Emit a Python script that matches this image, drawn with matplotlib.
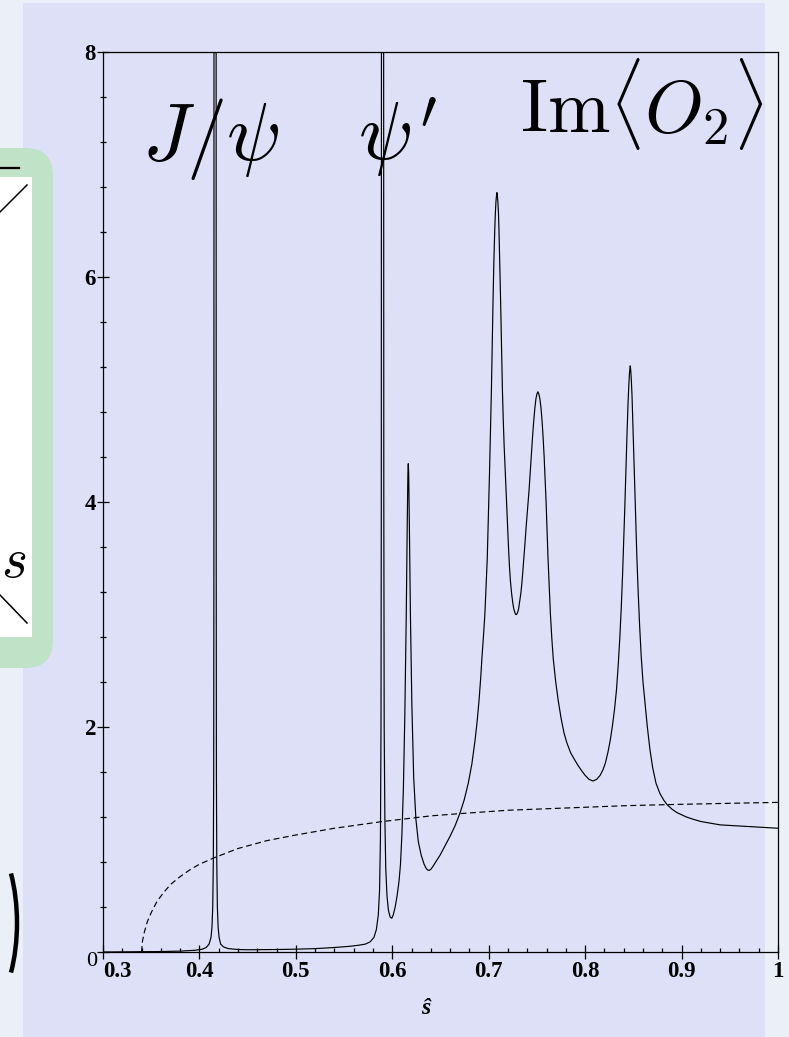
import matplotlib
matplotlib.use("Agg")
import matplotlib.pyplot as plt
from matplotlib.patches import FancyBboxPatch, Rectangle, Arc
from matplotlib.ticker import MultipleLocator

plt.rcParams['mathtext.fontset'] = 'cm'

W, H = 789, 1037

# Im<O2> (solid); peak tops above 8 are clipped by the axes
im_x = [0.300, 0.330, 0.360, 0.380, 0.395, 0.403, 0.407, 0.410, 0.412, 0.4130,
        0.4138, 0.4144, 0.4148, 0.4150, 0.4151,
        0.4173, 0.4174, 0.4176, 0.4180, 0.4186, 0.4194, 0.4204, 0.422, 0.425, 0.430,
        0.440, 0.450, 0.480, 0.500, 0.520, 0.540, 0.555, 0.565, 0.572, 0.577,
        0.581, 0.5835, 0.5855, 0.5868, 0.5877, 0.5883, 0.5886, 0.5888,
        0.5910, 0.5912, 0.5916, 0.5923, 0.5932, 0.5945, 0.596, 0.5978, 0.5995,
        0.601, 0.603, 0.605, 0.607, 0.6085, 0.610, 0.6115, 0.613, 0.6145, 0.6155,
        0.6162, 0.6166, 0.6170, 0.6177, 0.6188, 0.6203, 0.6222, 0.6245, 0.627,
        0.630, 0.633, 0.635, 0.6365, 0.638, 0.640, 0.6425, 0.645, 0.6495, 0.655,
        0.660, 0.665, 0.670, 0.6745, 0.6788, 0.6825, 0.6858, 0.688, 0.690, 0.6918,
        0.693, 0.6945, 0.696, 0.6972, 0.6985, 0.6993, 0.700, 0.7008, 0.7015, 0.7022,
        0.7028, 0.7036, 0.7045, 0.7053, 0.7062, 0.7069, 0.7075, 0.7080, 0.7085,
        0.7090, 0.7095, 0.7101, 0.7107, 0.7115, 0.7123, 0.7132, 0.7142, 0.7150,
        0.7160, 0.7172, 0.7185, 0.7195, 0.7205, 0.7215, 0.7225, 0.7237, 0.7250,
        0.7260, 0.7270, 0.7280, 0.7290, 0.7300, 0.7310, 0.7322, 0.7335, 0.7348,
        0.7360, 0.7375, 0.7390, 0.7405, 0.7418, 0.7430, 0.7440, 0.7453, 0.7465,
        0.7478, 0.7490, 0.7500, 0.7510, 0.7520, 0.7530, 0.7543, 0.7555, 0.7565,
        0.7575, 0.7585, 0.7595, 0.7605, 0.7615, 0.7628, 0.7640, 0.7655, 0.7670,
        0.7695, 0.7720, 0.7750, 0.7780, 0.7810, 0.7850, 0.7890, 0.7925, 0.7965,
        0.8000, 0.8040, 0.8080, 0.8120, 0.8155, 0.8185, 0.8210, 0.8235, 0.8260,
        0.8283, 0.8305, 0.8325, 0.8343, 0.8360, 0.8375, 0.8388, 0.8400, 0.8412,
        0.8423, 0.8434, 0.8445, 0.8453, 0.8460, 0.8468, 0.8473, 0.8479,
        0.8486, 0.8494, 0.8503, 0.8513, 0.8524, 0.8536, 0.8550, 0.8565, 0.8582,
        0.8600, 0.8620, 0.8645, 0.8672, 0.8700, 0.8735, 0.8775, 0.8815, 0.8850,
        0.8900, 0.8950, 0.9000, 0.9050, 0.9120, 0.9200, 0.9300, 0.9400, 0.9500,
        0.9600, 0.9800, 1.0000]
im_y = [0.000, 0.002, 0.004, 0.008, 0.015, 0.025, 0.040, 0.070, 0.130, 0.22,
        0.40, 0.80, 1.6, 3.5, 9.0,
        9.0, 3.5, 1.6, 0.80, 0.40, 0.22, 0.130, 0.070, 0.045, 0.030,
        0.022, 0.020, 0.022, 0.025, 0.030, 0.040, 0.050, 0.060, 0.070, 0.090,
        0.13, 0.20, 0.33, 0.55, 1.0, 2.0, 4.0, 9.0,
        9.0, 4.0, 2.0, 1.2, 0.75, 0.50, 0.37, 0.31, 0.30,
        0.33, 0.40, 0.50, 0.63, 0.78, 1.05, 1.45, 2.1, 3.0, 3.8,
        4.25, 4.34, 4.25, 3.8, 3.0, 2.2, 1.55, 1.18, 0.98,
        0.86, 0.78, 0.745, 0.73, 0.725, 0.735, 0.765, 0.80, 0.86, 0.95,
        1.03, 1.12, 1.23, 1.35, 1.50, 1.67, 1.88, 2.05, 2.24, 2.45,
        2.62, 2.8, 3.0, 3.25, 3.5, 3.75, 4.0, 4.25, 4.5, 4.75,
        5.0, 5.4, 5.8, 6.12, 6.4, 6.57, 6.67, 6.72, 6.75,
        6.72, 6.67, 6.57, 6.4, 6.12, 5.8, 5.4, 5.0, 4.75,
        4.5, 4.25, 4.0, 3.8, 3.6, 3.43, 3.3, 3.19, 3.1,
        3.05, 3.02, 3.0, 3.0, 3.02, 3.05, 3.12, 3.2, 3.32,
        3.45, 3.62, 3.8, 3.96, 4.1, 4.26, 4.4, 4.56, 4.7,
        4.83, 4.92, 4.96, 4.98, 4.96, 4.92, 4.83, 4.7, 4.56,
        4.4, 4.2, 4.0, 3.75, 3.5, 3.25, 3.0, 2.78, 2.6,
        2.4, 2.24, 2.08, 1.95, 1.86, 1.77, 1.71, 1.66, 1.61,
        1.57, 1.535, 1.52, 1.535, 1.57, 1.62, 1.68, 1.77, 1.88,
        2.01, 2.16, 2.33, 2.55, 2.8, 3.07, 3.35, 3.65, 3.97,
        4.3, 4.6, 4.88, 5.04, 5.15, 5.21, 5.17, 5.08,
        4.95, 4.72, 4.45, 4.15, 3.85, 3.52, 3.2, 2.9, 2.62,
        2.4, 2.22, 2.0, 1.8, 1.64, 1.5, 1.41, 1.35, 1.31,
        1.27, 1.24, 1.22, 1.20, 1.18, 1.16, 1.145, 1.13, 1.125,
        1.12, 1.11, 1.10]

# free quark part (dashed)
free_x = [0.340, 0.341, 0.343, 0.346, 0.350, 0.356, 0.363, 0.370, 0.380, 0.390,
          0.400, 0.416, 0.440, 0.470, 0.500, 0.540, 0.590, 0.640, 0.670, 0.720,
          0.780, 0.840, 0.885, 0.940, 1.000]
free_y = [0.00, 0.10, 0.18, 0.27, 0.35, 0.45, 0.53, 0.60, 0.67, 0.73,
          0.78, 0.84, 0.92, 0.99, 1.04, 1.10, 1.16, 1.21, 1.23, 1.26,
          1.28, 1.30, 1.31, 1.32, 1.33]

x_ticks = [0.3, 0.4, 0.5, 0.6, 0.7, 0.8, 0.9, 1.0]
x_tick_labels = ['0.3', '0.4', '0.5', '0.6', '0.7', '0.8', '0.9', '1']
y_ticks = [0, 2, 4, 6, 8]
y_tick_labels = ['', '2', '4', '6', '8']

fig = plt.figure(figsize=(W / 100, H / 100), dpi=100)
fig.patch.set_facecolor('#eaeff8')

# slide background, pixel coordinates
bg = fig.add_axes([0, 0, 1, 1], zorder=0)
bg.set_xlim(0, W)
bg.set_ylim(H, 0)
bg.axis('off')
bg.add_patch(Rectangle((23, 3), 742, 1040, fc='#dde0f6', ec='none'))
bg.add_patch(FancyBboxPatch((-60, 148), 113, 520,
                            boxstyle='round,pad=0,rounding_size=28',
                            fc='#c0e2c6', ec='none'))
bg.add_patch(Rectangle((-10, 177), 42, 460, fc='white', ec='none'))
bg.plot([0, 19], [168, 168], color='black', lw=1.6)
bg.plot([0, 27], [212, 185], color='black', lw=1.1)
bg.plot([0, 27], [595, 623], color='black', lw=1.1)
bg.text(26, 577, r'$s$', fontsize=40, ha='right', va='baseline')
bg.add_patch(Arc((-25, 923), 84, 192, theta1=-54, theta2=54, color='black', lw=3.2))

ax = fig.add_axes([103 / W, 1 - 952 / H, 675 / W, 900 / H], zorder=1)
ax.patch.set_alpha(0)
ax.plot(im_x, im_y, color='black', lw=0.85)
ax.plot(free_x, free_y, color='black', lw=0.85, dashes=(5, 3))
ax.set_xlim(0.3, 1.0)
ax.set_ylim(0, 8)

for s in ax.spines.values():
    s.set_linewidth(0.9)

tick_font = dict(family='Liberation Serif', weight='bold', size=16.5)
ax.set_xticks(x_ticks)
ax.set_xticklabels(x_tick_labels, fontdict=tick_font)
ax.set_yticks(y_ticks)
ax.set_yticklabels(y_tick_labels, fontdict=tick_font)
ax.get_xticklabels()[0].set_ha('left')
ax.xaxis.set_minor_locator(MultipleLocator(0.02))
ax.yaxis.set_minor_locator(MultipleLocator(0.4))
ax.tick_params(axis='x', which='major', direction='inout', length=9.5, width=0.9, pad=1.5)
ax.tick_params(axis='x', which='minor', direction='in', length=3, width=0.9)
ax.tick_params(axis='y', which='major', direction='inout', length=8, width=0.9, pad=1)
ax.tick_params(axis='y', which='minor', direction='inout', length=5, width=0.9)

fig.text(97 / W, 1 - 962 / H, '0', fontsize=16, family='Liberation Serif',
         ha='right', va='center')
fig.text(426 / W, 1 - 1008 / H, '\u015d', fontsize=17, family='Liberation Serif',
         weight='bold', style='italic', ha='center', va='center')

fig.text(142 / W, 1 - 160 / H, r'$J/\psi$', fontsize=58, ha='left', va='baseline')
fig.text(358 / W, 1 - 160 / H, r"$\psi'$", fontsize=58, ha='left', va='baseline')
fig.text(520 / W, 1 - 132 / H, r'$\mathrm{Im}\langle O_2\rangle$', fontsize=54,
         ha='left', va='baseline')

fig.savefig('out.png', dpi=100, facecolor=fig.get_facecolor())
